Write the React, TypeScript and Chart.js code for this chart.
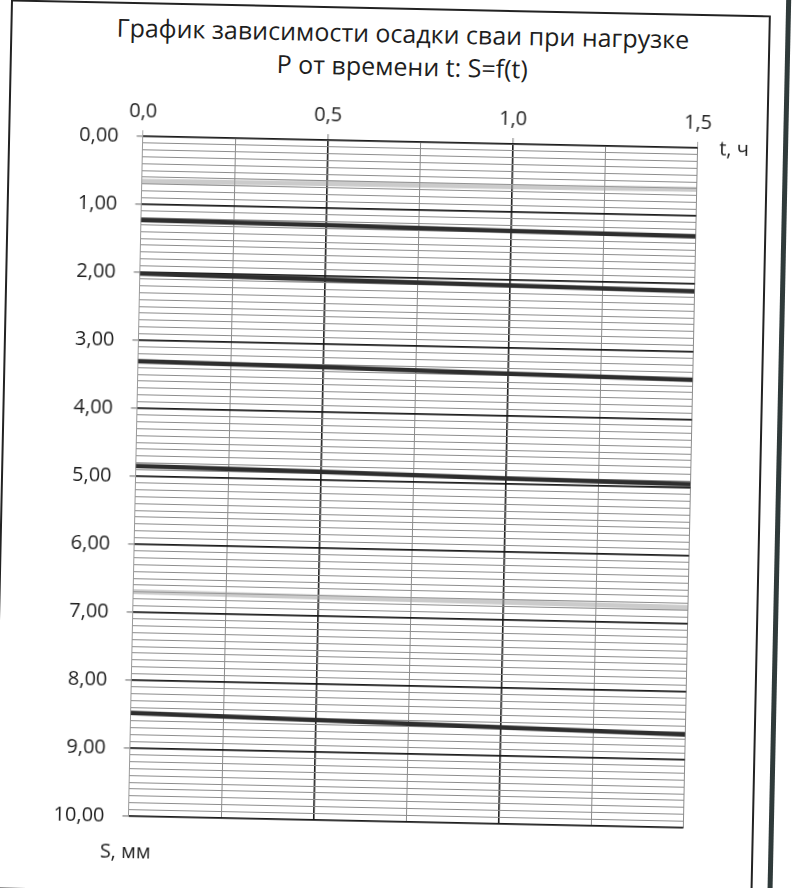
import React, { useEffect, useRef } from "react";
import { Chart, registerables } from "chart.js";

Chart.register(...registerables);

// Time points, h
const tValues = [0, 0.5, 1.0, 1.5];
// Settlement S, mm, for each load stage
const stage1 = [0.66, 0.64, 0.63, 0.61];
const stage2 = [1.23, 1.25, 1.28, 1.3];
const stage3 = [2.02, 2.05, 2.08, 2.11];
const stage4 = [3.31, 3.34, 3.38, 3.41];
const stage5 = [4.85, 4.88, 4.92, 4.95];
const stage6 = [6.7, 6.72, 6.74, 6.76];
const stage7 = [8.48, 8.53, 8.58, 8.63];

const xMin = 0;
const xMax = 1.5;
const xStep = 0.25;
const xLabelStep = 0.5;
const yMin = 0;
const yMax = 10;
const yStep = 0.1;
const yLabelStep = 1;

const titleLines = ["График зависимости осадки сваи при нагрузке", "Р от времени t: S=f(t)"];
const xTitle = "t, ч";
const yTitle = "S, мм";

const FONT = "'Open Sans', 'Noto Sans', sans-serif";

const isMult = (v: number, m: number) => Math.abs(v / m - Math.round(v / m)) < 1e-6;

export default function App() {
  const ref = useRef<HTMLCanvasElement | null>(null);

  useEffect(() => {
    if (!ref.current) return;
    const mk = (vals: number[], light: boolean) => ({
      data: tValues.map((t, i) => ({ x: t, y: vals[i] })),
      borderColor: light ? "rgba(160,160,160,0.55)" : "#2e2e2e",
      borderWidth: light ? 5 : 4.5,
      pointRadius: 0,
      tension: 0,
    });
    const chart = new Chart(ref.current, {
      type: "line",
      data: {
        datasets: [
          mk(stage1, true),
          mk(stage2, false),
          mk(stage3, false),
          mk(stage4, false),
          mk(stage5, false),
          mk(stage6, true),
          mk(stage7, false),
        ],
      },
      options: {
        animation: false,
        responsive: false,
        devicePixelRatio: 1,
        layout: { padding: { left: 0, right: 104.5, top: 0, bottom: 66 } },
        plugins: { legend: { display: false }, tooltip: { enabled: false }, title: { display: false } },
        font: { family: FONT },
        scales: {
          x: {
            type: "linear",
            position: "top",
            min: xMin,
            max: xMax,
            afterFit: (s: any) => {
              s.height = 142;
            },
            ticks: {
              stepSize: xStep,
              autoSkip: false,
              maxRotation: 0,
              padding: 7,
              color: "#1e1e1e",
              font: { family: FONT, size: 20 },
              callback: (v: any) => (isMult(Number(v), xLabelStep) ? Number(v).toFixed(1).replace(".", ",") : ""),
            },
            grid: {
              color: (ctx: any) => {
                const v = ctx.tick ? ctx.tick.value : 0;
                if (isMult(v, xLabelStep) && v > xMin + 1e-6 && v < xMax - 1e-6) return "#1e1e1e";
                return "#8c8c8c";
              },
              lineWidth: (ctx: any) => {
                const v = ctx.tick ? ctx.tick.value : 0;
                return isMult(v, xLabelStep) && v > xMin + 1e-6 && v < xMax - 1e-6 ? 1.6 : 1;
              },
              tickLength: 6,
              tickColor: (ctx: any) => {
                const v = ctx.tick ? ctx.tick.value : 0;
                return isMult(v, xLabelStep) ? "#aaaaaa" : "rgba(0,0,0,0)";
              },
            },
            border: { display: true, color: "#555555", width: 1 },
          },
          y: {
            type: "linear",
            reverse: true,
            min: yMin,
            max: yMax,
            afterFit: (s: any) => {
              s.width = 135.5;
            },
            ticks: {
              stepSize: yStep,
              autoSkip: false,
              padding: 18,
              color: "#1e1e1e",
              font: { family: FONT, size: 20 },
              callback: (v: any) => (isMult(Number(v), yLabelStep) ? Number(v).toFixed(2).replace(".", ",") : ""),
            },
            grid: {
              color: (ctx: any) => {
                const v = ctx.tick ? ctx.tick.value : 0;
                return isMult(v, yLabelStep) ? "#1a1a1a" : "#8c8c8c";
              },
              lineWidth: (ctx: any) => {
                const v = ctx.tick ? ctx.tick.value : 0;
                return isMult(v, yLabelStep) ? 1.8 : 1;
              },
              tickLength: 6,
              tickColor: (ctx: any) => {
                const v = ctx.tick ? ctx.tick.value : 0;
                return isMult(v, yLabelStep) ? "#aaaaaa" : "rgba(0,0,0,0)";
              },
            },
            border: { display: true, color: "#999999", width: 1 },
          },
        },
      },
    } as any);
    return () => chart.destroy();
  }, []);

  const textStyle: React.CSSProperties = {
    position: "absolute",
    fontFamily: FONT,
    color: "#1e1e1e",
    whiteSpace: "nowrap",
  };

  return (
    <div style={{ position: "fixed", left: 0, top: 0, width: 795, height: 888, overflow: "hidden", background: "#fff" }}>
      <div
        style={{
          position: "absolute",
          left: 0,
          top: 0,
          width: 795,
          height: 888,
          transform: "rotate(1.2deg)",
          transformOrigin: "413px 482px",
        }}
      >
        <div
          style={{
            position: "absolute",
            left: 1,
            top: 8,
            width: 760,
            height: 890,
            border: "2.5px solid #222",
            boxSizing: "border-box",
          }}
        />
        <div style={{ position: "absolute", left: 776, top: -30, width: 5, height: 960, background: "#2f3a3a" }} />
        <div style={{ ...textStyle, left: 0, width: 787, top: 17, textAlign: "center", fontSize: 25, lineHeight: "33px" }}>
          <div>{titleLines[0]}</div>
          <div>{titleLines[1]}</div>
        </div>
        <canvas ref={ref} width={795} height={888} style={{ position: "absolute", left: 0, top: 0, width: 795, height: 888 }} />
        <div style={{ ...textStyle, left: 727, top: 141.5, fontSize: 20, lineHeight: "24px", transform: "translate(-50%,-50%)" }}>
          {xTitle}
        </div>
        <div style={{ ...textStyle, left: 133, top: 857, fontSize: 20, lineHeight: "24px", transform: "translate(-50%,-50%)" }}>
          {yTitle}
        </div>
      </div>
    </div>
  );
}
